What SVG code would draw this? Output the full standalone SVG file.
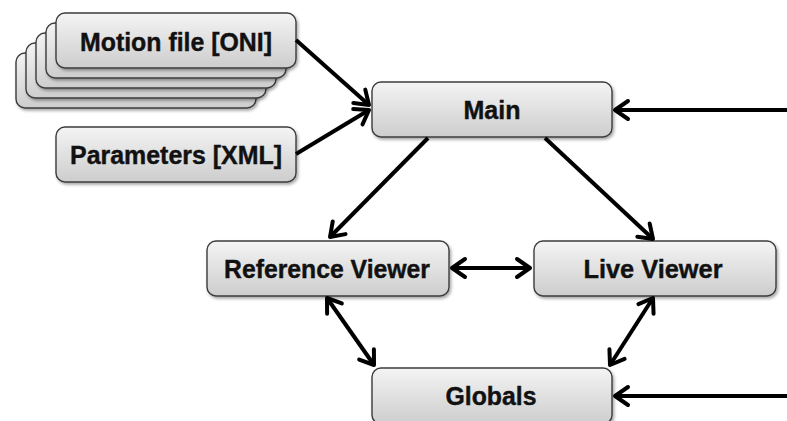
<svg xmlns="http://www.w3.org/2000/svg" width="787" height="421" viewBox="0 0 787 421">
  <style>
    .box { fill: url(#boxFill); stroke: #3c3c3c; stroke-width: 1.4; filter: url(#shadow); }
    .label { font-family: "Liberation Sans", Arial, sans-serif; font-weight: bold; font-size: 25px; fill: #111; stroke: #111; stroke-width: 0.4; text-anchor: middle; }
    .link { stroke: #000; stroke-width: 4; fill: none; marker-end: url(#head); }
    .both { marker-start: url(#head); }
  </style>
  <defs>
    <linearGradient id="boxFill" x1="0" y1="0" x2="0" y2="1">
      <stop offset="0" stop-color="#f4f4f4"/>
      <stop offset="1" stop-color="#cdcdcd"/>
    </linearGradient>
    <filter id="shadow" x="-10%" y="-20%" width="125%" height="150%">
      <feDropShadow dx="1.5" dy="2" stdDeviation="1.5" flood-color="#000" flood-opacity="0.35"/>
    </filter>
    <marker id="head" viewBox="-18 -12 22 24" refX="0" refY="0" markerWidth="22" markerHeight="24" markerUnits="userSpaceOnUse" orient="auto-start-reverse">
      <path d="M-13,-9 L0,0 L-13,9" fill="none" stroke="#000" stroke-width="4" stroke-linecap="round" stroke-linejoin="round"/>
    </marker>
  </defs>

  <!-- stack of motion files -->
  <g id="motion-files">
    <rect class="box" x="16" y="53" width="240" height="55" rx="9"/>
    <rect class="box" x="26" y="43" width="240" height="55" rx="9"/>
    <rect class="box" x="36" y="33" width="240" height="55" rx="9"/>
    <rect class="box" x="46" y="23" width="240" height="55" rx="9"/>
    <rect class="box" x="56" y="13" width="240" height="55" rx="9"/>
    <text class="label" x="176" y="51" textLength="192" lengthAdjust="spacingAndGlyphs">Motion file [ONI]</text>
  </g>

  <g id="parameters">
    <rect class="box" x="56" y="127" width="240" height="55" rx="9"/>
    <text class="label" x="176" y="164" textLength="212" lengthAdjust="spacingAndGlyphs">Parameters [XML]</text>
  </g>

  <g id="main">
    <rect class="box" x="372" y="82" width="240" height="55" rx="9"/>
    <text class="label" x="492" y="119" textLength="57" lengthAdjust="spacingAndGlyphs">Main</text>
  </g>

  <g id="reference-viewer">
    <rect class="box" x="207" y="241" width="242" height="55" rx="9"/>
    <text class="label" x="327" y="278" textLength="206" lengthAdjust="spacingAndGlyphs">Reference Viewer</text>
  </g>

  <g id="live-viewer">
    <rect class="box" x="534" y="241" width="242" height="55" rx="9"/>
    <text class="label" x="653" y="278" textLength="139" lengthAdjust="spacingAndGlyphs">Live Viewer</text>
  </g>

  <g id="globals">
    <rect class="box" x="372" y="368" width="240" height="56" rx="9"/>
    <text class="label" x="491" y="405" textLength="91" lengthAdjust="spacingAndGlyphs">Globals</text>
  </g>

  <g id="connectors">
    <line class="link" x1="296" y1="40" x2="369" y2="105"/>
    <line class="link" x1="296" y1="154" x2="369" y2="110"/>
    <line class="link" x1="787" y1="110" x2="615" y2="110"/>
    <line class="link" x1="428" y1="138" x2="330" y2="237"/>
    <line class="link" x1="545" y1="138" x2="653" y2="239"/>
    <line class="link both" x1="452" y1="268" x2="530" y2="268"/>
    <line class="link both" x1="327" y1="298" x2="374" y2="365"/>
    <line class="link both" x1="653" y1="298" x2="610" y2="365"/>
    <line class="link" x1="787" y1="396" x2="615" y2="396"/>
  </g>
</svg>
